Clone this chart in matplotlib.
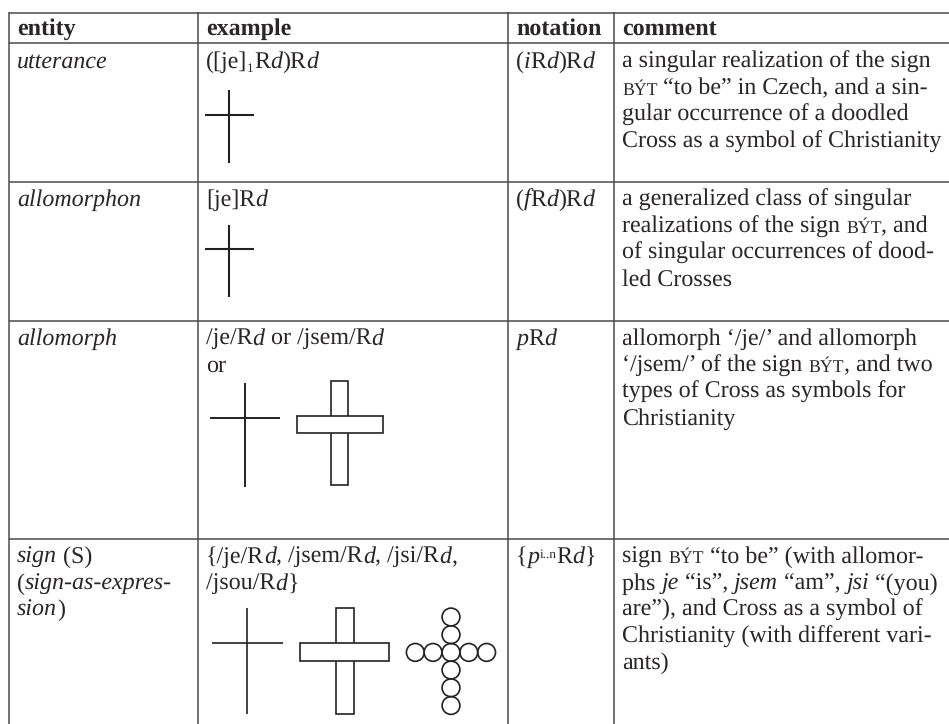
import re
import matplotlib
matplotlib.use('Agg')
import matplotlib.pyplot as plt
from matplotlib.patches import Circle, Rectangle

plt.rcParams['text.hinting'] = 'no_hinting'

INK = '#2a2627'
RULE = '#4a4a4a'
FONT = 'Liberation Serif'
SIZE = 17.3

# markup: *italic*  ~small caps~  _sub_  ^sup^
headers = ['entity', 'example', 'notation', 'comment']
entity = [
    ['*utterance*'],
    ['*allomorphon*'],
    ['*allomorph*'],
    ['*sign* (S)', '(*sign-as-expres-*', '*sion*)'],
]
example = [
    ['([je]_1_R*d*)R*d*'],
    ['[je]R*d*'],
    ['/je/R*d* or /jsem/R*d*', 'or'],
    ['{/je/R*d*, /jsem/R*d*, /jsi/R*d*,', '/jsou/R*d*}'],
]
notation = [
    ['(*i*R*d*)R*d*'],
    ['(*f*R*d*)R*d*'],
    ['*p*R*d*'],
    ['{*p*^i..n^R*d*}'],
]
comment = [
    ['a singular realization of the sign',
     '~BÝT~ “to be” in Czech, and a sin-',
     'gular occurrence of a doodled',
     'Cross as a symbol of Christianity'],
    ['a generalized class of singular',
     'realizations of the sign ~BÝT~, and',
     'of singular occurrences of dood-',
     'led Crosses'],
    ['allomorph ‘/je/’ and allomorph',
     '‘/jsem/’ of the sign ~BÝT~, and two',
     'types of Cross as symbols for',
     'Christianity'],
    ['sign ~BÝT~ “to be” (with allomor-',
     'phs *je* “is”, *jsem* “am”, *jsi* “(you)',
     'are”), and Cross as a symbol of',
     'Christianity (with different vari-',
     'ants)'],
]

fig = plt.figure(figsize=(9.49, 7.24), dpi=100)
ax = fig.add_axes([0, 0, 1, 1])
ax.set_xlim(0, 949)
ax.set_ylim(724, 0)
ax.axis('off')
renderer = fig.canvas.get_renderer()


def text_run(x, y, s, **kw):
    # trailing spaces are not always measured, so measure with a bar on the end
    ax.text(x, y, s, family=FONT, color=INK, va='baseline', ha='left', **kw)
    probe = ax.text(0, 0, s + '|', family=FONT, **kw)
    bar = ax.text(0, 0, '|', family=FONT, **kw)
    w = probe.get_window_extent(renderer).width - bar.get_window_extent(renderer).width
    probe.remove()
    bar.remove()
    return x + w


def draw_line(x, y, line, weight='normal'):
    for part in re.split(r'(\*[^*]+\*|~[^~]+~|_[^_]+_|\^[^^]+\^)', line):
        if not part:
            continue
        body = part[1:-1]
        if part[0] == '*':
            x = text_run(x, y, body, style='italic', size=SIZE)
        elif part[0] == '~':
            x = text_run(x, y, body, size=SIZE * 0.74)
        elif part[0] == '_':
            x = text_run(x, y + 4, body, size=SIZE * 0.55)
        elif part[0] == '^':
            x = text_run(x, y - 5, body, size=SIZE * 0.55)
        else:
            x = text_run(x, y, part, size=SIZE, weight=weight)


def hline_cross(x, top, bottom, left, right, arm, lw=1.4):
    ax.plot([x, x], [top, bottom], color='#222222', lw=lw, solid_capstyle='butt')
    ax.plot([left, right], [arm, arm], color='#222222', lw=lw, solid_capstyle='butt')


def block_cross(left, right, bar_top, bar_bottom, stem_left, stem_right, top, bottom):
    ax.add_patch(Rectangle((stem_left, top), stem_right - stem_left, bottom - top,
                           fc='white', ec='#222222', lw=1.2))
    ax.add_patch(Rectangle((left, bar_top), right - left, bar_bottom - bar_top,
                           fc='white', ec='#222222', lw=1.2, zorder=3))


# table rules
for x in [9, 198, 508, 614]:
    ax.plot([x, x], [12, 724], color=RULE, lw=1.1, solid_capstyle='butt')
for y in [12.5, 43, 182, 321, 539]:
    ax.plot([9, 949], [y, y], color=RULE, lw=1.1, solid_capstyle='butt')

col_x = [17, 206, 516, 622]
for x, h in zip(col_x, headers):
    draw_line(x, 35, h, weight='bold')

row_y = [68, 206, 345, 563]
LEAD = 26.5
for col, x in zip([entity, example, notation, comment], col_x):
    for lines, y0 in zip(col, row_y):
        for i, line in enumerate(lines):
            draw_line(x, y0 + i * LEAD, line)

# doodled crosses
hline_cross(229, 90, 163, 205, 254, 115, lw=1.5)
hline_cross(229, 225, 297, 205, 254, 249, lw=1.5)
hline_cross(245, 383, 487, 210, 280, 418)
block_cross(297, 383, 416, 433, 331, 348, 381, 485)
hline_cross(247.5, 608, 714, 212, 283, 643, lw=1.2)
block_cross(300, 389, 643, 661, 336, 354, 608, 714)

for cy in [617, 634.7, 652.4, 670, 687.8, 705.5]:
    ax.add_patch(Circle((451, cy), 8.9, fc='none', ec='#222222', lw=1.2))
for cx in [415.3, 433, 468.8, 486.6]:
    ax.add_patch(Circle((cx, 652.4), 8.9, fc='none', ec='#222222', lw=1.2))

fig.savefig('out.png', dpi=100, facecolor='white')
